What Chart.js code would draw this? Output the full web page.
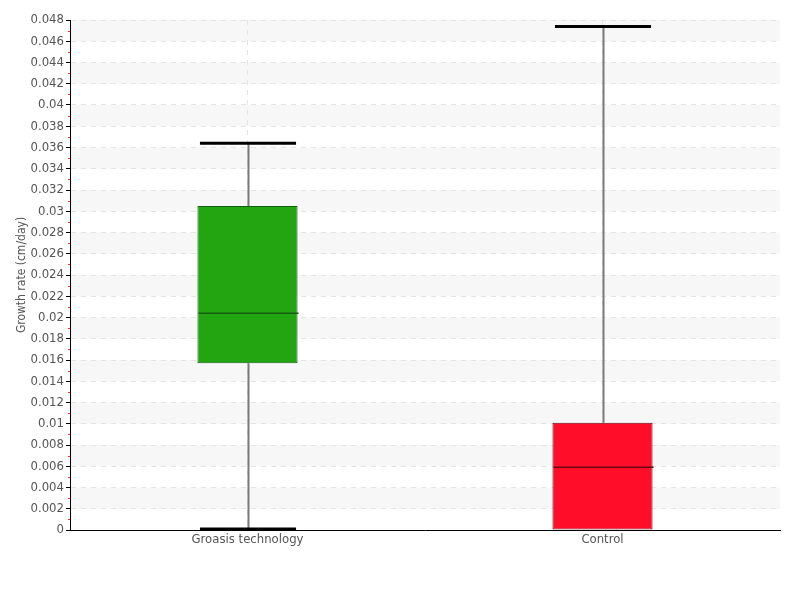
<!DOCTYPE html>
<html lang="en">
<head>
    <meta charset="UTF-8">
    <title>Growth rate box plot</title>
    <script src="https://cdn.jsdelivr.net/npm/chart.js"></script>
    <style>
        body { margin: 0; background: #fff; }
        #wrap { width: 800px; height: 600px; }
    </style>
</head>
<body>
<div id="wrap"><canvas id="boxChart" width="800" height="600"></canvas></div>
<script>
    // Box plot values
    const categories = ['Groasis technology', 'Control'];
    const whiskerMin = [0.0001, 0];
    const q1 = [0.0157, 0];
    const median = [0.0204, 0.0059];
    const q3 = [0.0305, 0.0101];
    const whiskerMax = [0.0364, 0.0474];
    const boxColors = ['#22a511', '#ff0d29'];
    const boxBorders = ['#175c0e', '#6a0a14'];

    const FONT = '"DejaVu Sans Condensed", "Liberation Sans Narrow", sans-serif';

    // alternating light bands between y ticks + red minor ticks
    const bandsPlugin = {
        id: 'bands',
        beforeDraw(chart) {
            const { ctx, chartArea, scales: { y } } = chart;
            ctx.save();
            ctx.fillStyle = '#f7f7f7';
            const ticks = y.ticks.map(t => t.value).sort((a, b) => b - a);
            for (let i = 0; i < ticks.length - 1; i += 2) {
                const top = y.getPixelForValue(ticks[i]);
                const bot = y.getPixelForValue(ticks[i + 1]);
                ctx.fillRect(chartArea.left, top, chartArea.right - chartArea.left, bot - top);
            }
            ctx.restore();
        },
        afterDraw(chart) {
            const { ctx, chartArea, scales: { y } } = chart;
            ctx.save();
            ctx.strokeStyle = '#ff3030';
            ctx.lineWidth = 1;
            const ticks = y.ticks.map(t => t.value);
            for (let i = 0; i < ticks.length - 1; i++) {
                const yy = Math.round(y.getPixelForValue((ticks[i] + ticks[i + 1]) / 2)) + 0.5;
                ctx.beginPath();
                ctx.moveTo(chartArea.left - 2, yy);
                ctx.lineTo(chartArea.left, yy);
                ctx.stroke();
            }
            ctx.restore();
        }
    };

    // whiskers, caps and median lines
    const whiskerPlugin = {
        id: 'whiskers',
        afterDatasetsDraw(chart) {
            const { ctx, scales: { x, y } } = chart;
            const meta = chart.getDatasetMeta(0);
            ctx.save();
            categories.forEach((c, i) => {
                const bar = meta.data[i];
                const cx = Math.round(x.getPixelForValue(i)) + 0.5;
                const half = bar.width / 2;
                const yMax = y.getPixelForValue(whiskerMax[i]);
                const yMin = y.getPixelForValue(whiskerMin[i]);
                const yQ1 = y.getPixelForValue(q1[i]);
                const yQ3 = y.getPixelForValue(q3[i]);
                const yMed = y.getPixelForValue(median[i]);

                ctx.strokeStyle = '#7a7a7a';
                ctx.lineWidth = 2;
                ctx.beginPath();
                ctx.moveTo(cx, yQ3);
                ctx.lineTo(cx, yMax);
                if (whiskerMin[i] < q1[i]) {
                    ctx.moveTo(cx, yQ1);
                    ctx.lineTo(cx, yMin);
                }
                ctx.stroke();

                ctx.strokeStyle = '#000';
                ctx.lineWidth = 3;
                ctx.beginPath();
                ctx.moveTo(cx - half * 0.97, yMax);
                ctx.lineTo(cx + half * 0.95, yMax);
                if (whiskerMin[i] < q1[i]) {
                    ctx.moveTo(cx - half * 0.97, yMin);
                    ctx.lineTo(cx + half * 0.95, yMin);
                }
                ctx.stroke();

                ctx.strokeStyle = boxBorders[i];
                ctx.lineWidth = 1.5;
                ctx.beginPath();
                ctx.moveTo(cx - half, yMed);
                ctx.lineTo(cx + half, yMed);
                ctx.stroke();
            });
            ctx.restore();
        }
    };

    new Chart(document.getElementById('boxChart'), {
        type: 'bar',
        data: {
            labels: categories,
            datasets: [{
                data: categories.map((c, i) => [q1[i], q3[i]]),
                backgroundColor: boxColors,
                borderColor: boxBorders,
                borderWidth: 1,
                borderSkipped: false,
                categoryPercentage: 1,
                barPercentage: 0.282
            }]
        },
        options: {
            responsive: false,
            animation: false,
            layout: { padding: { top: 20, right: 20, left: 0, bottom: 0 } },
            plugins: {
                legend: { display: false },
                tooltip: { enabled: false }
            },
            scales: {
                x: {
                    afterFit(scale) { scale.height = 70; },
                    grid: {
                        offset: false,
                        color: '#e4e4e4',
                        drawTicks: false
                    },
                    border: { color: '#000', width: 1, dash: [5, 5] },
                    ticks: {
                        color: '#555',
                        font: { family: FONT, size: 13 },
                        padding: 2
                    }
                },
                y: {
                    min: 0,
                    max: 0.048,
                    afterFit(scale) { scale.width = 70; },
                    grid: {
                        color: '#e4e4e4',
                        tickColor: '#000',
                        tickLength: 4
                    },
                    border: { color: '#000', width: 1, dash: [5, 5] },
                    ticks: {
                        stepSize: 0.002,
                        color: '#555',
                        padding: 2,
                        font: { family: FONT, size: 13 },
                        callback: v => parseFloat(v.toFixed(3)).toString()
                    },
                    title: {
                        display: true,
                        text: 'Growth rate (cm/day)',
                        color: '#555',
                        font: { family: FONT, size: 12 },
                        padding: { top: 15, bottom: 0 }
                    }
                }
            }
        },
        plugins: [bandsPlugin, whiskerPlugin]
    });
</script>
</body>
</html>
